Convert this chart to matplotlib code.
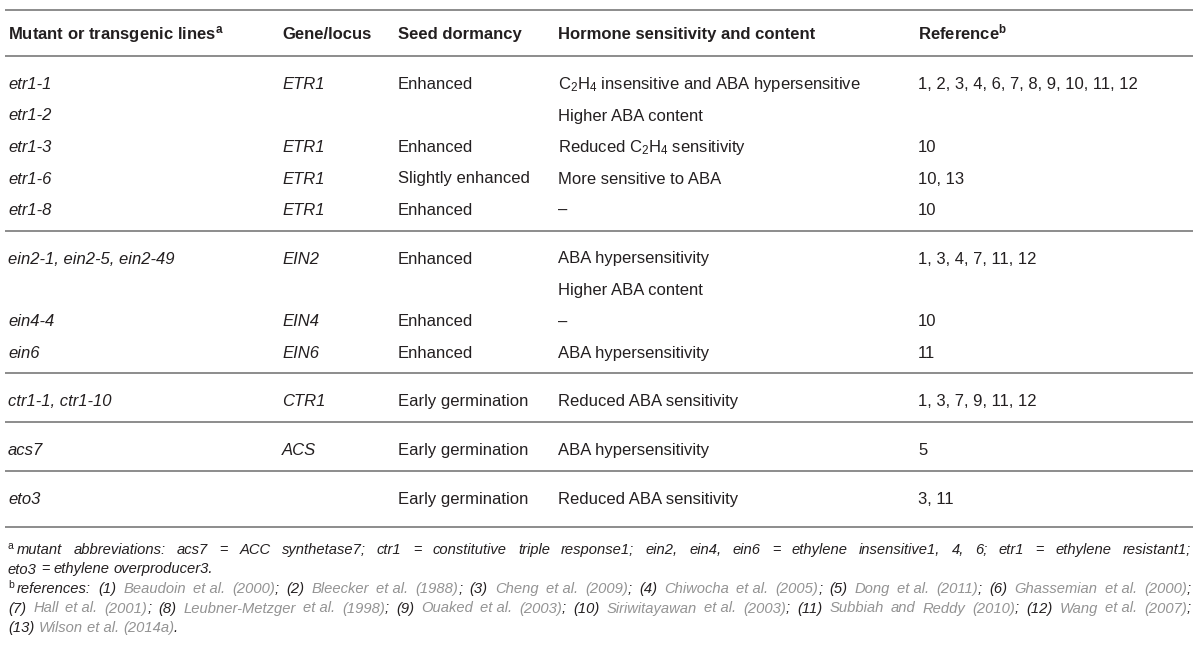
import matplotlib
matplotlib.use('Agg')
from matplotlib import pyplot as plt

plt.rcParams.update({
  'font.family': 'Liberation Sans',
  'mathtext.fontset': 'custom',
  'mathtext.rm': 'Liberation Sans',
  'mathtext.it': 'Liberation Sans:italic',
  'mathtext.bf': 'Liberation Sans:bold',
})

headers = ['Mutant or transgenic lines$^{\\mathbf{a}}$', 'Gene/locus', 'Seed dormancy',
           'Hormone sensitivity and content', 'Reference$^{\\mathbf{b}}$']

mutants = ['etr1-1', 'etr1-2', 'etr1-3', 'etr1-6', 'etr1-8',
           'ein2-1, ein2-5, ein2-49', '', 'ein4-4', 'ein6',
           'ctr1-1, ctr1-10', 'acs7', 'eto3']
genes = ['ETR1', '', 'ETR1', 'ETR1', 'ETR1', 'EIN2', '', 'EIN4', 'EIN6', 'CTR1', 'ACS', '']
dormancy = ['Enhanced', '', 'Enhanced', 'Slightly enhanced', 'Enhanced',
            'Enhanced', '', 'Enhanced', 'Enhanced',
            'Early germination', 'Early germination', 'Early germination']
hormone = ['C$_\\mathrm{2}$H$_\\mathrm{4}$ insensitive and ABA hypersensitive', 'Higher ABA content',
           'Reduced C$_\\mathrm{2}$H$_\\mathrm{4}$ sensitivity', 'More sensitive to ABA', '–',
           'ABA hypersensitivity', 'Higher ABA content', '–', 'ABA hypersensitivity',
           'Reduced ABA sensitivity', 'ABA hypersensitivity', 'Reduced ABA sensitivity']
references = ['1, 2, 3, 4, 6, 7, 8, 9, 10, 11, 12', '', '10', '10, 13', '10',
              '1, 3, 4, 7, 11, 12', '', '10', '11',
              '1, 3, 7, 9, 11, 12', '5', '3, 11']
groups = [5, 4, 1, 1, 1]

# footnotes, {...} marks the grey citation text, ~ is a space that is not stretched
footnote_a = ['mutant abbreviations: acs7 = ACC synthetase7; ctr1 = constitutive triple response1; '
              'ein2, ein4, ein6 = ethylene insensitive1, 4, 6; etr1 = ethylene resistant1;',
              'eto3 = ethylene overproducer3.']
footnote_b = ['references: (1) {Beaudoin et~al. (2000)}; (2) {Bleecker et~al. (1988)}; (3) {Cheng et~al. (2009)}; '
              '(4) {Chiwocha et~al. (2005)}; (5) {Dong et~al. (2011)}; (6) {Ghassemian et~al. (2000)};',
              '(7) {Hall et~al. (2001)}; (8) {Leubner-Metzger et~al. (1998)}; (9) {Ouaked et~al. (2003)}; '
              '(10) {Siriwitayawan et~al. (2003)}; (11) {Subbiah and Reddy (2010)}; (12) {Wang et~al. (2007)};',
              '(13) {Wilson et~al. (2014a)}.']

TXT = '#231f20'
GREY = '#939393'
RULE = '#8c8c8c'
W, H = 1200, 647

fig = plt.figure(figsize=(W / 100, H / 100), dpi=100)
ax = fig.add_axes([0, 0, 1, 1])
ax.set_xlim(0, W)
ax.set_ylim(H, 0)
ax.axis('off')
renderer = fig.canvas.get_renderer()

col_x = [8, 282, 398, 558, 918]
x_left, x_right = 5, 1193
group_h = [174.5, 142.5, 49, 49, 56]


def rule(y):
  ax.plot([x_left, x_right], [y, y], color=RULE, lw=1.4, solid_capstyle='butt')


# header
rule(10)
for x, h in zip(col_x, headers):
  ax.text(x, 33 + 6, h, fontsize=12, fontweight='bold', color=TXT, va='baseline')
line_y = 56
rule(line_y)

# body
columns = [mutants, genes, dormancy, hormone, references]
styles = ['italic', 'italic', 'normal', 'normal', 'normal']
i = 0
for n, gh in zip(groups, group_h):
  y = line_y + 27
  for k in range(n):
    for x, col, st in zip(col_x, columns, styles):
      if col[i]:
        ax.text(x, y + 6, col[i], fontsize=12, style=st, color=TXT, va='baseline')
    i += 1
    y += 31.5
  line_y = line_y + gh
  rule(line_y)


FS = 10.6


def ink(s, style='italic'):
  t = ax.text(0, 0, s, fontsize=FS, style=style)
  w = t.get_window_extent(renderer).width
  t.remove()
  return w


def foot_line(x0, y, text, justify):
  # split into words, and words into black / grey pieces
  grey = False
  pieces = []
  words = text.split(' ')
  for wi, w in enumerate(words):
    cur = ''
    for ch in w + '\0':
      if ch in '{}\0':
        if cur:
          pieces.append((wi, cur.replace('~', ' '), grey))
          cur = ''
        if ch != '\0':
          grey = ch == '{'
      else:
        cur += ch
  space = ink('a a') - ink('aa')
  widths = []
  for wi, p, g in pieces:
    st = 'normal' if p == '=' else 'italic'
    widths.append(ink('|' + p + '|', st) - ink('||', st))
  total = sum(widths) + space * (len(words) - 1)
  gap = space
  if justify:
    gap = space + (x_right - 2 - x0 - total) / (len(words) - 1)
  x = x0
  last = 0
  for (wi, p, g), w in zip(pieces, widths):
    if wi != last:
      x += gap
      last = wi
    st = 'normal' if p == '=' else 'italic'
    ax.text(x + (ink('|' + p, st) - ink('|', st) - ink(p, st)), y, p,
            color=GREY if g else TXT, fontsize=FS, style=st, va='baseline')
    x += w


fy = line_y + 27
step = 19.5
for mark, lines in [('a', footnote_a), ('b', footnote_b)]:
  for j, line in enumerate(lines):
    x0 = 8
    if j == 0:
      ax.text(8, fy - 5, mark, fontsize=7.5, color=TXT, va='baseline')
      x0 = 17
    foot_line(x0, fy, line, j < len(lines) - 1)
    fy += step

fig.savefig('out.png', dpi=100, facecolor='white')
